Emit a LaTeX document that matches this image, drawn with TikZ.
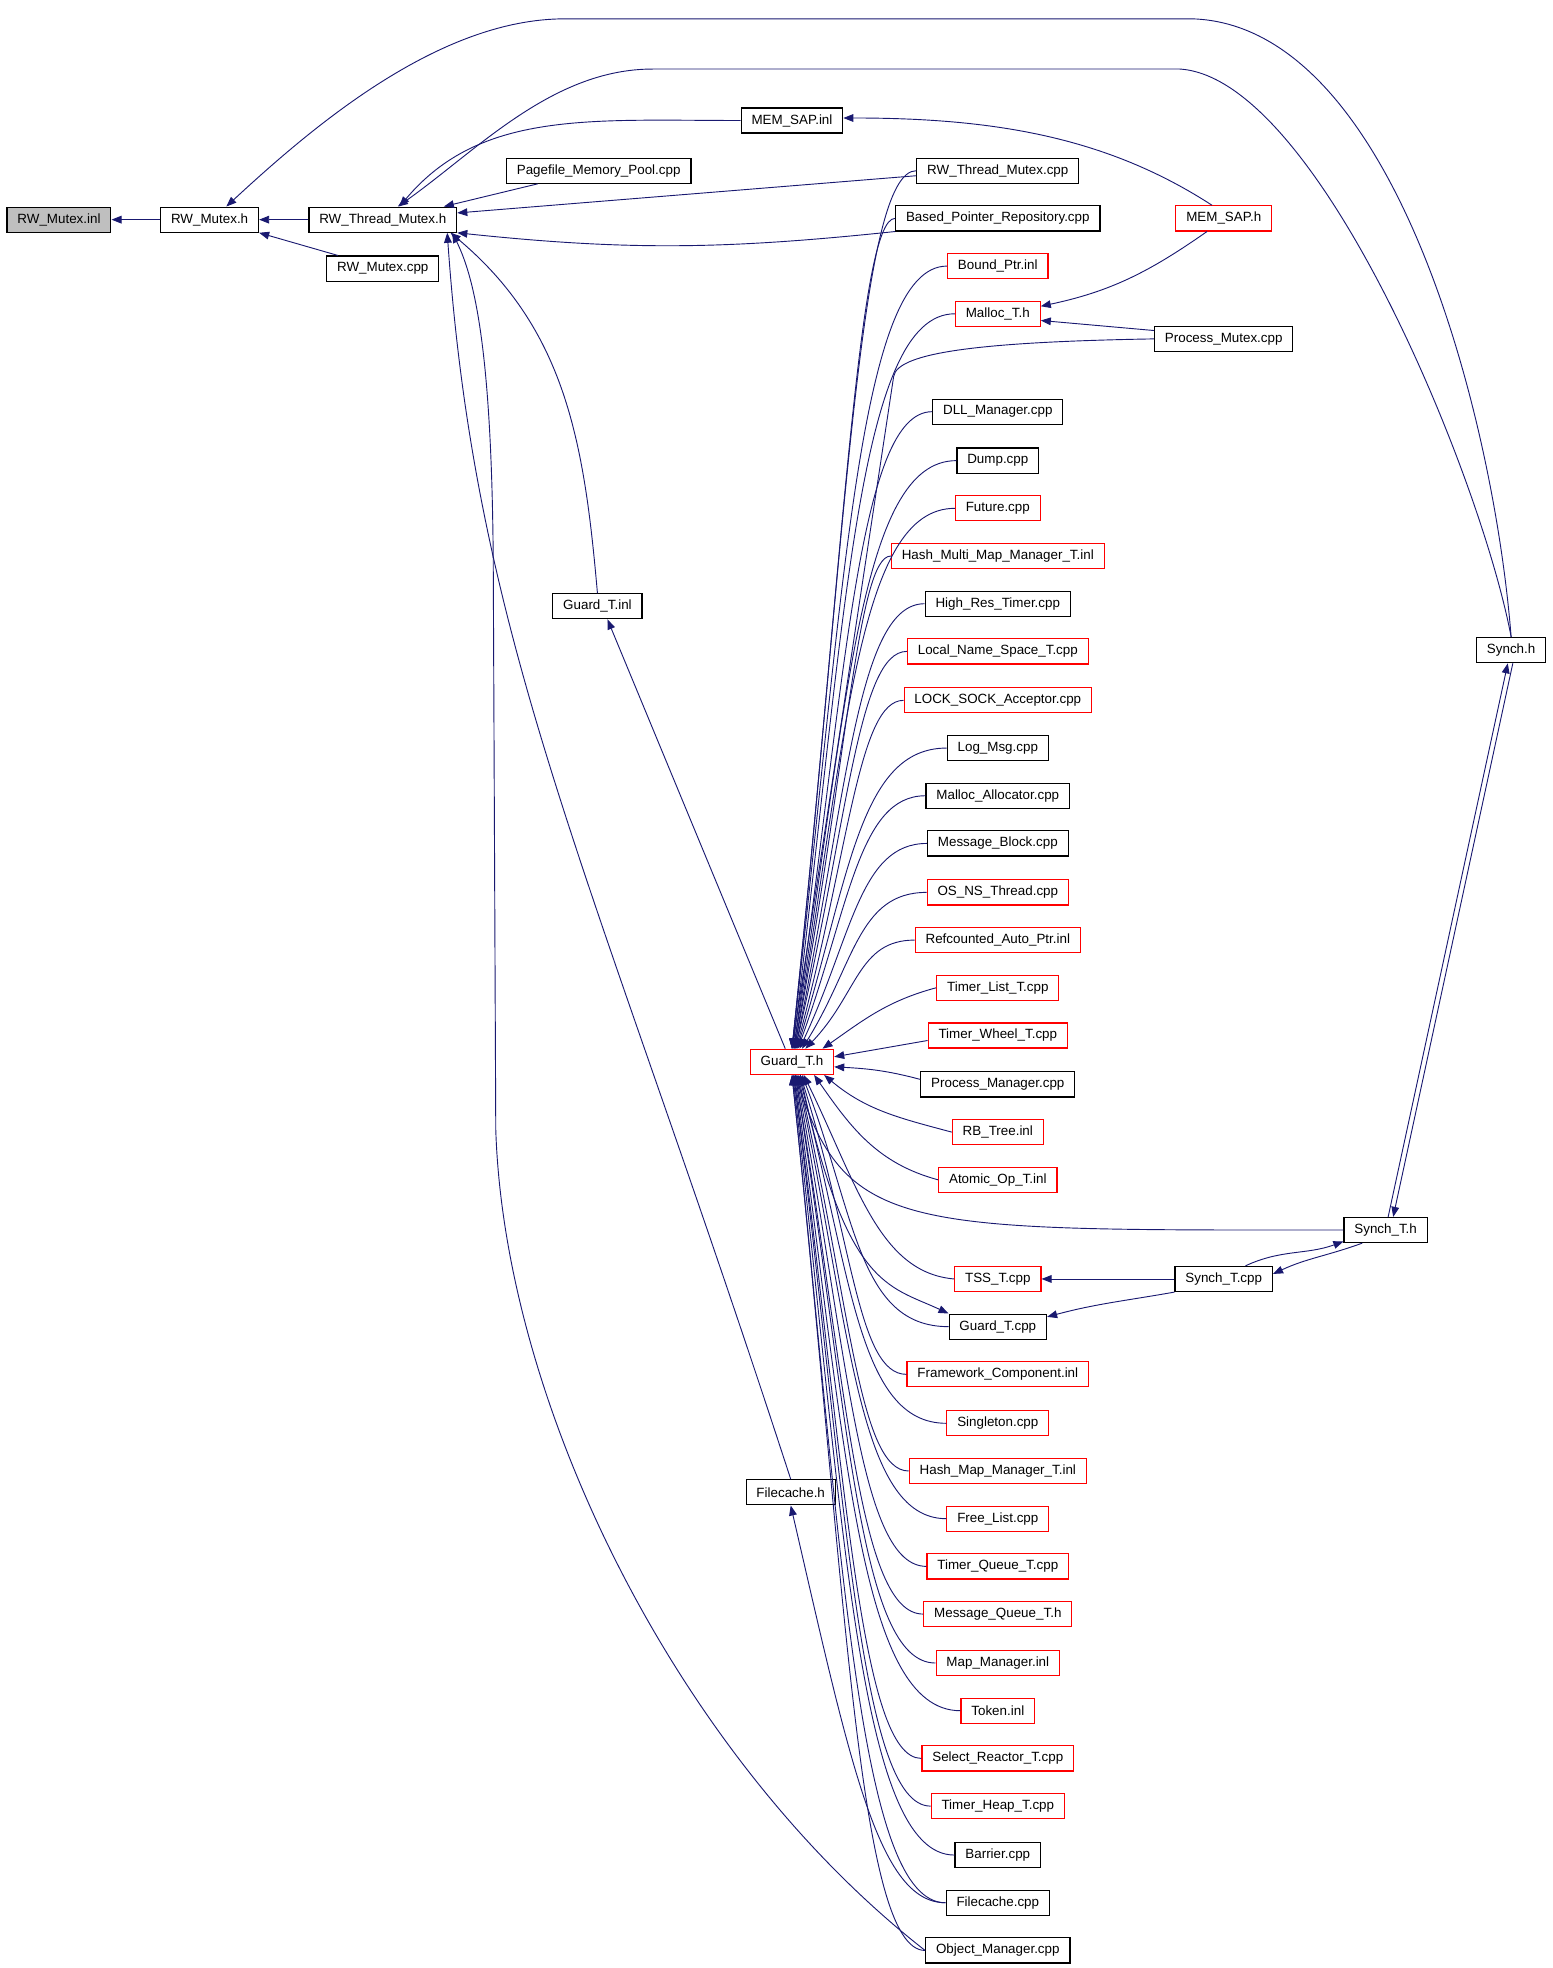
\documentclass[tikz,border=0pt]{standalone}
\usepackage{fontspec}
\setmainfont{Liberation Sans}
\usetikzlibrary{arrows.meta}
\definecolor{edgeblue}{HTML}{191970}
\tikzset{
  box/.style={draw=black, line width=0.7pt, inner xsep=6.2pt, inner ysep=0pt, minimum height=15pt, font=\fontsize{8}{9}\selectfont},
  redbox/.style={box, draw=red},
  dep/.style={draw=edgeblue, line width=0.55pt, -{Triangle[length=6pt,width=4.6pt]}},
}

\begin{document}
\begin{tikzpicture}[x=0.75pt,y=0.75pt]
			%%%%% START %%%%%
			\useasboundingbox (0,0) rectangle (1237,-1568);
			
			\node[box, fill=black!25] (rwinl) at (47,-175) {RW\_Mutex.inl};
			\node[box] (rwh) at (167,-175) {RW\_Mutex.h};
			\node[box] (rwtmh) at (305,-175) {RW\_Thread\_Mutex.h};
			\node[box] (rwmcpp) at (305,-214) {RW\_Mutex.cpp};
			\node[box] (pagefile) at (477,-136) {Pagefile\_Memory\_Pool.cpp};
			\node[box] (meminl) at (631,-96) {MEM\_SAP.inl};
			\node[box] (gtinl) at (476,-483) {Guard\_T.inl};
			\node[redbox] (gth) at (631,-846) {Guard\_T.h};
			\node[box] (fch) at (630,-1189) {Filecache.h};
			\node[redbox] (memh) at (975,-174) {MEM\_SAP.h};
			\node[box] (pmutex) at (975,-270) {Process\_Mutex.cpp};
			\node[box] (synchh) at (1204,-518) {Synch.h};
			\node[box] (stth) at (1104,-980) {Synch\_T.h};
			\node[box] (stcpp) at (975,-1019) {Synch\_T.cpp};
			
			\node[box] (rwtmcpp) at (795,-136) {RW\_Thread\_Mutex.cpp};
			\node[box] (bprcpp) at (795,-174) {Based\_Pointer\_Repository.cpp};
			\node[redbox] (bptr) at (795,-212) {Bound\_Ptr.inl};
			\node[redbox] (malloc) at (795,-250) {Malloc\_T.h};
			\node[box] (dll) at (795,-328) {DLL\_Manager.cpp};
			\node[box] (dump) at (795,-367) {Dump.cpp};
			\node[redbox] (future) at (795,-405) {Future.cpp};
			\node[redbox] (hmmm) at (795,-443) {Hash\_Multi\_Map\_Manager\_T.inl};
			\node[box] (hrt) at (795,-481) {High\_Res\_Timer.cpp};
			\node[redbox] (lnst) at (795,-519) {Local\_Name\_Space\_T.cpp};
			\node[redbox] (lsa) at (795,-558) {LOCK\_SOCK\_Acceptor.cpp};
			\node[box] (logmsg) at (795,-596) {Log\_Msg.cpp};
			\node[box] (malloca) at (795,-634) {Malloc\_Allocator.cpp};
			\node[box] (msgb) at (795,-672) {Message\_Block.cpp};
			\node[redbox] (osns) at (795,-711) {OS\_NS\_Thread.cpp};
			\node[redbox] (refc) at (795,-749) {Refcounted\_Auto\_Ptr.inl};
			\node[redbox] (tlist) at (795,-787) {Timer\_List\_T.cpp};
			\node[redbox] (twheel) at (795,-825) {Timer\_Wheel\_T.cpp};
			\node[box] (procmgr) at (795,-864) {Process\_Manager.cpp};
			\node[redbox] (rbtree) at (795,-902) {RB\_Tree.inl};
			\node[redbox] (atomic) at (795,-940) {Atomic\_Op\_T.inl};
			\node[redbox] (tss) at (795,-1019) {TSS\_T.cpp};
			\node[box] (gtcpp) at (795,-1057) {Guard\_T.cpp};
			\node[redbox] (framework) at (795,-1095) {Framework\_Component.inl};
			\node[redbox] (singleton) at (795,-1134) {Singleton.cpp};
			\node[redbox] (hmmt) at (795,-1172) {Hash\_Map\_Manager\_T.inl};
			\node[redbox] (freelist) at (795,-1210) {Free\_List.cpp};
			\node[redbox] (tqueue) at (795,-1248) {Timer\_Queue\_T.cpp};
			\node[redbox] (mqueue) at (795,-1286) {Message\_Queue\_T.h};
			\node[redbox] (mapmgr) at (795,-1325) {Map\_Manager.inl};
			\node[redbox] (token) at (795,-1363) {Token.inl};
			\node[redbox] (selreact) at (795,-1401) {Select\_Reactor\_T.cpp};
			\node[redbox] (theap) at (795,-1439) {Timer\_Heap\_T.cpp};
			\node[box] (barrier) at (795,-1478) {Barrier.cpp};
			\node[box] (fccpp) at (795,-1516) {Filecache.cpp};
			\node[box] (objmgr) at (795,-1554) {Object\_Manager.cpp};
			
			% left part
			\draw[dep] (rwh.west) -- (rwinl.east);
			\draw[dep] (rwtmh.west) -- (rwh.east);
			\draw[dep] ([xshift=7pt]rwmcpp.north west) -- (rwh.south east);
			\draw[dep] ([xshift=19pt]pagefile.south west) -- ([xshift=-8pt]rwtmh.north east);
			\draw[dep] ([yshift=-3pt]rwtmcpp.west) -- ([yshift=4pt]rwtmh.east);
			\draw[dep] (bprcpp.south west) to[out=186,in=-6] (rwtmh.south east);
			\draw[dep] (meminl.west) to[out=180,in=50,out distance=90pt,in distance=75pt] ([xshift=10pt]rwtmh.north);
			\draw[dep] (gtinl.north) to[out=95,in=-40,out distance=90pt,in distance=90pt] ([xshift=-4pt]rwtmh.south east);
			\draw[dep] (fch.north) to[out=108,in=-86,out distance=380pt,in distance=250pt] ([xshift=-6pt]rwtmh.south east);
			\draw[dep] (objmgr.west) .. controls (540,-1400) and (402,-1120) .. (395,-900) -- (393,-450) .. controls (392,-290) and (380,-225) .. ([xshift=-3pt]rwtmh.south east);
			
			% Synch.h
			\draw[dep] (synchh.north) .. controls (1190,-330) and (1110,-20) .. (950,-15) -- (450,-15) .. controls (350,-15) and (250,-100) .. ([xshift=10pt]rwh.north);
			\draw[dep] (synchh.north) .. controls (1180,-380) and (1050,-62) .. (940,-55) -- (520,-55) .. controls (440,-55) and (380,-120) .. ([xshift=9pt]rwtmh.north);
			\draw[dep] ([xshift=1.5pt]stth.north) -- ([xshift=-2pt]synchh.south);
			\draw[dep] ([xshift=1pt]synchh.south) -- ([xshift=4.5pt]stth.north);
			\draw[dep] ([xshift=13pt]stcpp.north) to[out=25,in=200] ([yshift=1pt]stth.south west);
			\draw[dep] ([xshift=-14pt]stth.south) to[out=200,in=25] ([yshift=3pt]stcpp.east);
			\draw[dep] (stcpp.west) -- (tss.east);
			\draw[dep] (stcpp.south west) to[out=190,in=15] ([yshift=-2pt]gtcpp.north east);
			\draw[dep] (stth.west) to[out=180,in=-72,out distance=260pt,in distance=100pt] ([xshift=2pt]gth.south);
			
			% MEM_SAP
			\draw[dep] ([xshift=-7pt]memh.north) to[out=147,in=0,out distance=75pt,in distance=90pt] ([yshift=1.5pt]meminl.east);
			\draw[dep] ([xshift=-10pt]memh.south) to[out=215,in=12] ([yshift=4.5pt]malloc.east);
			\draw[dep] ([yshift=5pt]pmutex.west) -- ([yshift=-4pt]malloc.east);
			\draw[dep] (pmutex.west) to[out=181,in=82,out distance=100pt,in distance=15pt] (712,-300) -- (gth.north);
			
			% Guard_T.h, from above
			\draw[dep] (rwtmcpp.west) to[out=180,in=84,out distance=34pt,in distance=311pt] (gth.north);
			\draw[dep] (bprcpp.west) to[out=180,in=84,out distance=22pt,in distance=293pt] (gth.north);
			\draw[dep] (bptr.west) to[out=180,in=83.5,out distance=53pt,in distance=276pt] (gth.north);
			\draw[dep] (malloc.west) to[out=180,in=83,out distance=58pt,in distance=259pt] ([xshift=0.5pt]gth.north);
			\draw[dep] (dll.west) to[out=180,in=82,out distance=44pt,in distance=225pt] ([xshift=1pt]gth.north);
			\draw[dep] (dump.west) to[out=180,in=81,out distance=58pt,in distance=207pt] ([xshift=1pt]gth.north);
			\draw[dep] (future.west) to[out=180,in=80.5,out distance=58pt,in distance=190pt] ([xshift=1.5pt]gth.north);
			\draw[dep] (hmmm.west) to[out=180,in=79.5,out distance=20pt,in distance=173pt] ([xshift=1.5pt]gth.north);
			\draw[dep] (hrt.west) to[out=180,in=78.5,out distance=40pt,in distance=157pt] ([xshift=2pt]gth.north);
			\draw[dep] (lnst.west) to[out=180,in=77,out distance=29pt,in distance=140pt] ([xshift=2pt]gth.north);
			\draw[dep] (lsa.west) to[out=180,in=75,out distance=27pt,in distance=123pt] ([xshift=2.5pt]gth.north);
			\draw[dep] (logmsg.west) to[out=180,in=73,out distance=52pt,in distance=107pt] ([xshift=3pt]gth.north);
			\draw[dep] (malloca.west) to[out=180,in=70,out distance=40pt,in distance=90pt] ([xshift=3.5pt]gth.north);
			\draw[dep] (msgb.west) to[out=180,in=65,out distance=40pt,in distance=75pt] ([xshift=4.5pt]gth.north);
			\draw[dep] (osns.west) to[out=180,in=58,out distance=41pt,in distance=59pt] ([xshift=6pt]gth.north);
			\draw[dep] (refc.west) to[out=180,in=46,out distance=34pt,in distance=45pt] ([xshift=8pt]gth.north);
			\draw[dep] (tlist.west) to[out=195,in=35] ([xshift=-7pt]gth.north east);
			\draw[dep] ([yshift=-3pt]twheel.west) -- ([yshift=3pt]gth.east);
			\draw[dep] ([yshift=3pt]procmgr.west) to[out=165,in=-3] ([yshift=-3pt]gth.east);
			\draw[dep] (rbtree.west) to[out=165,in=-40] ([xshift=-6pt]gth.south east);
			\draw[dep] (atomic.west) to[out=165,in=-55] ([xshift=-12pt]gth.south east);
			
			% Guard_T.h, from below
			\draw[dep] (tss.west) to[out=175,in=-64,out distance=45pt,in distance=73pt] ([xshift=7pt]gth.south);
			\draw[dep] (gtcpp.west) to[out=180,in=-69,out distance=54pt,in distance=89pt] ([xshift=6pt]gth.south);
			\draw[dep] (framework.west) to[out=180,in=-72.5,out distance=29pt,in distance=105pt] ([xshift=5pt]gth.south);
			\draw[dep] (singleton.west) to[out=180,in=-75,out distance=53pt,in distance=122pt] ([xshift=4pt]gth.south);
			\draw[dep] (hmmt.west) to[out=180,in=-77,out distance=30pt,in distance=139pt] ([xshift=3.5pt]gth.south);
			\draw[dep] (freelist.west) to[out=180,in=-78,out distance=53pt,in distance=155pt] ([xshift=3pt]gth.south);
			\draw[dep] (tqueue.west) to[out=180,in=-79.5,out distance=40pt,in distance=172pt] ([xshift=2.5pt]gth.south);
			\draw[dep] (mqueue.west) to[out=180,in=-80.5,out distance=39pt,in distance=189pt] ([xshift=2pt]gth.south);
			\draw[dep] (mapmgr.west) to[out=180,in=-81,out distance=46pt,in distance=206pt] ([xshift=2pt]gth.south);
			\draw[dep] (token.west) to[out=180,in=-82,out distance=61pt,in distance=223pt] ([xshift=1.5pt]gth.south);
			\draw[dep] (selreact.west) to[out=180,in=-82.5,out distance=37pt,in distance=240pt] ([xshift=1pt]gth.south);
			\draw[dep] (theap.west) to[out=180,in=-83,out distance=42pt,in distance=257pt] ([xshift=1pt]gth.south);
			\draw[dep] (barrier.west) to[out=180,in=-83.5,out distance=57pt,in distance=275pt] ([xshift=0.5pt]gth.south);
			\draw[dep] (fccpp.west) to[out=180,in=-84,out distance=52pt,in distance=292pt] (gth.south);
			\draw[dep] (objmgr.west) to[out=180,in=-84,out distance=40pt,in distance=309pt] (gth.south);
			
			% Guard_T.h to its own
			\draw[dep] ([xshift=5pt]gth.south) to[out=-78,in=155,out distance=130pt,in distance=40pt] (gtcpp.north west);
			\draw[dep] ([xshift=-4pt]gth.north) -- ([xshift=6pt]gtinl.south);
			\draw[dep] (fccpp.west) to[out=180,in=-77,out distance=40pt,in distance=160pt] (fch.south);
			%%%%% END %%%%%
\end{tikzpicture}
\end{document}
